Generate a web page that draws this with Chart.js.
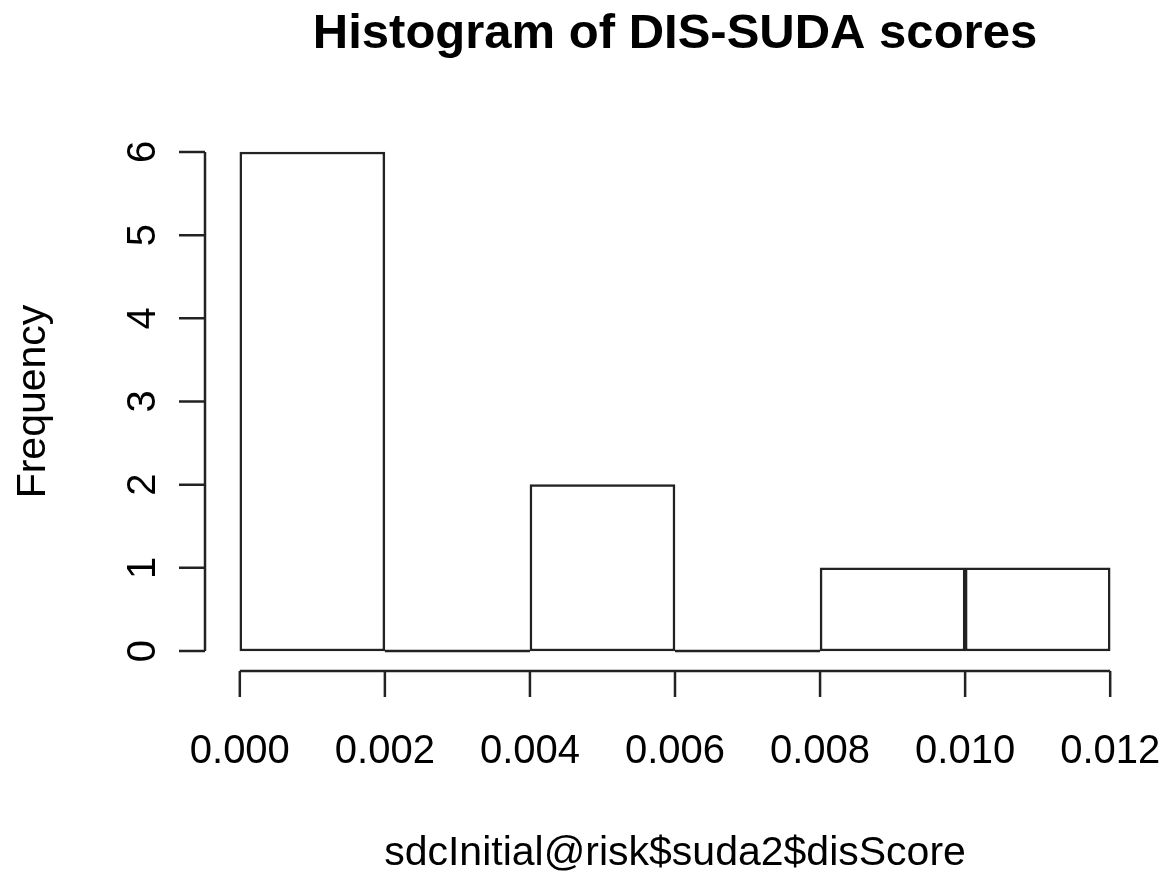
<!DOCTYPE html>
<html>
<head>
<meta charset="utf-8">
<script src="https://cdn.jsdelivr.net/npm/chart.js@4"></script>
<style>
  html, body { margin: 0; padding: 0; background: #fff; }
  #wrap { width: 1170px; height: 875px; }
</style>
</head>
<body>
<div id="wrap"><canvas id="chart1" width="1170" height="875"></canvas></div>
<script>
// histogram data
const binEdges = [0, 0.002, 0.004, 0.006, 0.008, 0.010, 0.012]
const counts = [6, 0, 2, 0, 1, 1]
const xTicks = [0, 0.002, 0.004, 0.006, 0.008, 0.010, 0.012]
const yTicks = [0, 1, 2, 3, 4, 5, 6]
const titleText = 'Histogram of DIS-SUDA scores'
const xTitle = 'sdcInitial@risk$suda2$disScore'
const yTitle = 'Frequency'

const FONT = '"Liberation Sans", Arial, Helvetica, sans-serif'
const INK = '#222222'

//bar centres from the bin edges
const barData = counts.map((c, i) => ({ x: (binEdges[i] + binEdges[i + 1]) / 2, y: c }))

//R style pad of 4% on each side
const xMin = binEdges[0], xMax = binEdges[binEdges.length - 1]
const xPad = (xMax - xMin) * 0.04
const yPad = (yTicks[yTicks.length - 1] - 0) * 0.04

//draws the R style axes, labels and titles
const baseAxes = {
    id: 'baseAxes',
    afterDraw(chart) {
        const ctx = chart.ctx
        const x = chart.scales.x
        const y = chart.scales.y
        const area = chart.chartArea
        ctx.save()
        ctx.strokeStyle = INK
        ctx.fillStyle = '#000'
        ctx.lineWidth = 2.5

        //flat rectangles for empty bins
        counts.forEach((c, i) => {
            if (c === 0) {
                ctx.beginPath()
                ctx.moveTo(x.getPixelForValue(binEdges[i]), y.getPixelForValue(0))
                ctx.lineTo(x.getPixelForValue(binEdges[i + 1]), y.getPixelForValue(0))
                ctx.stroke()
            }
        })

        //x axis
        const xAxisY = area.bottom
        ctx.beginPath()
        ctx.moveTo(x.getPixelForValue(xTicks[0]), xAxisY)
        ctx.lineTo(x.getPixelForValue(xTicks[xTicks.length - 1]), xAxisY)
        xTicks.forEach(v => {
            const px = x.getPixelForValue(v)
            ctx.moveTo(px, xAxisY)
            ctx.lineTo(px, xAxisY + 26)
        })
        ctx.stroke()
        ctx.font = '40px ' + FONT
        ctx.textAlign = 'center'
        ctx.textBaseline = 'alphabetic'
        xTicks.forEach(v => {
            ctx.fillText(v.toFixed(3), x.getPixelForValue(v), 763)
        })

        //y axis
        const yAxisX = area.left
        ctx.beginPath()
        ctx.moveTo(yAxisX, y.getPixelForValue(yTicks[0]))
        ctx.lineTo(yAxisX, y.getPixelForValue(yTicks[yTicks.length - 1]))
        yTicks.forEach(v => {
            const py = y.getPixelForValue(v)
            ctx.moveTo(yAxisX, py)
            ctx.lineTo(yAxisX - 26, py)
        })
        ctx.stroke()
        yTicks.forEach(v => {
            ctx.save()
            ctx.translate(155, y.getPixelForValue(v))
            ctx.rotate(-Math.PI / 2)
            ctx.fillText(String(v), 0, 0)
            ctx.restore()
        })

        //titles
        const midX = (area.left + area.right) / 2
        const midY = (area.top + area.bottom) / 2
        ctx.font = 'bold 49px ' + FONT
        ctx.fillText(titleText, midX, 48)
        ctx.font = '41px ' + FONT
        ctx.fillText(xTitle, midX, 865)
        ctx.save()
        ctx.translate(45, midY)
        ctx.rotate(-Math.PI / 2)
        ctx.fillText(yTitle, 0, 0)
        ctx.restore()

        ctx.restore()
    }
}

const config = {
    type: 'bar',
    data: {
        datasets: [{
            label: 'Frequency',
            data: barData,
            backgroundColor: '#ffffff',
            borderColor: INK,
            borderWidth: 2.5,
            borderSkipped: false,
            barPercentage: 1,
            categoryPercentage: 1
        }]
    },
    options: {
        responsive: false,
        animation: false,
        layout: {
            padding: { left: 205, right: 25, top: 132, bottom: 204 }
        },
        plugins: {
            legend: { display: false },
            title: { display: false },
            tooltip: { enabled: false }
        },
        scales: {
            x: {
                type: 'linear',
                offset: false,
                min: xMin - xPad,
                max: xMax + xPad,
                display: false
            },
            y: {
                min: -yPad,
                max: 6 + yPad,
                display: false
            }
        }
    },
    plugins: [baseAxes]
}

const Chart1 = new Chart(document.getElementById('chart1'), config)
</script>
</body>
</html>
